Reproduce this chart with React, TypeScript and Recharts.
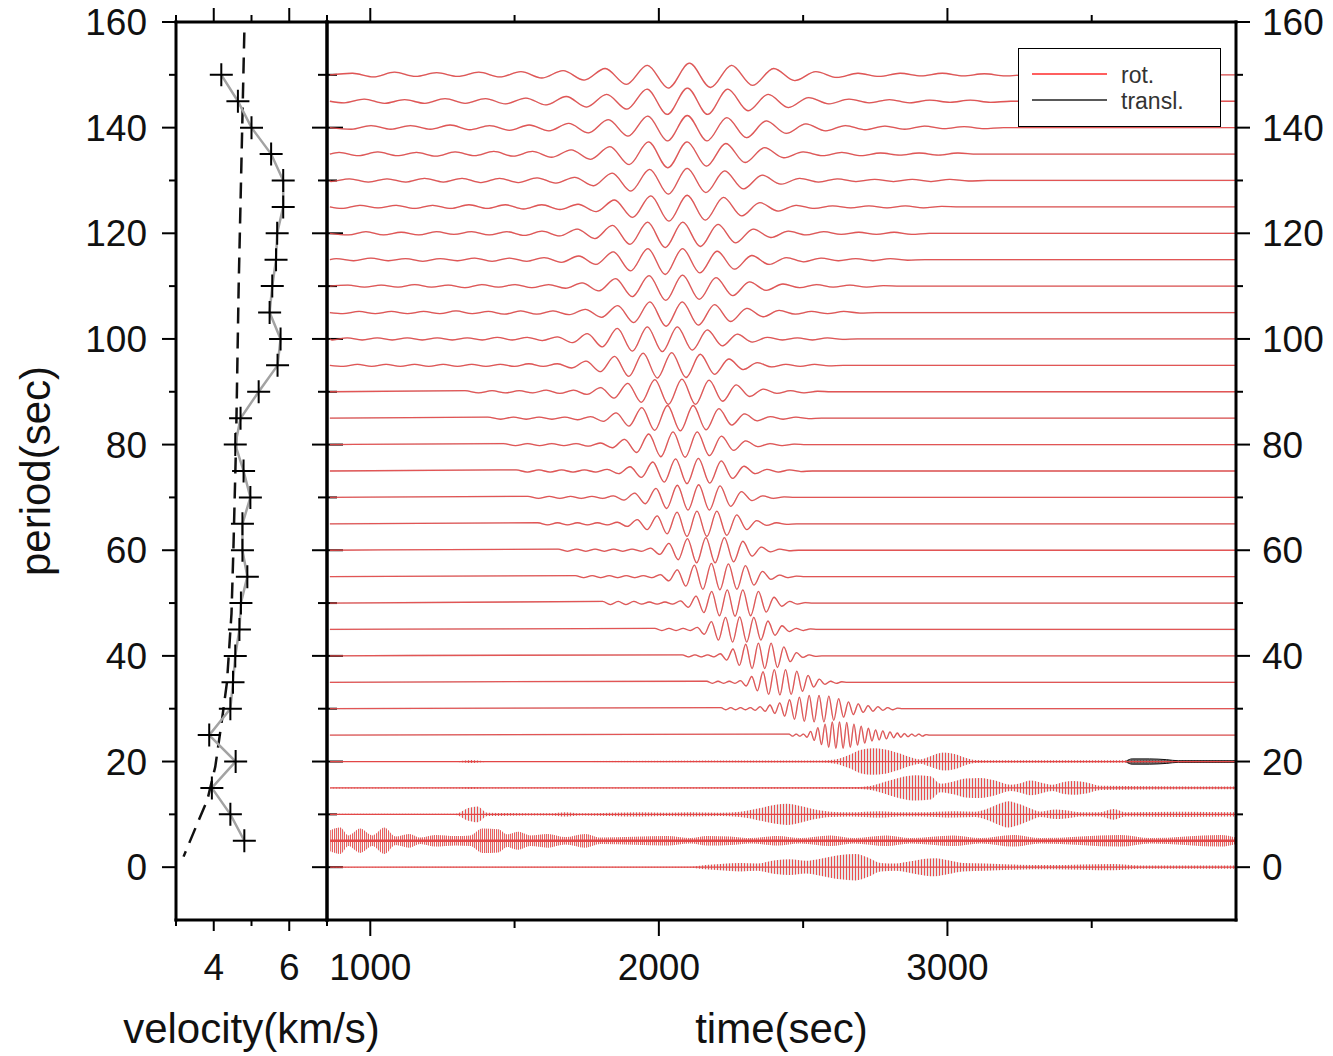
import React from 'react';
import { ComposedChart, Line, Area, Scatter, XAxis, YAxis, Legend } from 'recharts';

const W = 1333;
const H = 1056;
const FONT = '"Liberation Sans", Arial, Helvetica, sans-serif';

// ---------- tick values ----------
const periodTicks = [0, 10, 20, 30, 40, 50, 60, 70, 80, 90, 100, 110, 120, 130, 140, 150, 160];
const periodLabels = [0, 20, 40, 60, 80, 100, 120, 140, 160];
const velTicks = [3, 4, 5, 6, 7];
const velLabels = [4, 6];
const timeTicks = [1000, 1500, 2000, 2500, 3000, 3500];
const timeLabels = [1000, 2000, 3000];

// ---------- left panel: velocity vs period ----------
const crossPeriods = [150, 145, 140, 135, 130, 125, 120, 115, 110, 105, 100, 95, 90, 85, 80, 75, 70, 65, 60, 55, 50, 45, 40, 35, 30, 25, 20, 15, 10, 5];
const crossVel = [4.2, 4.64, 5.0, 5.52, 5.84, 5.84, 5.68, 5.65, 5.55, 5.48, 5.77, 5.69, 5.19, 4.71, 4.57, 4.79, 4.97, 4.76, 4.76, 4.89, 4.72, 4.68, 4.57, 4.51, 4.44, 3.88, 4.58, 3.95, 4.44, 4.81];
const refPeriods = [158, 110, 80, 60, 48, 35, 28, 19, 12.7, 8, 2];
const refVel = [4.81, 4.66, 4.59, 4.52, 4.47, 4.35, 4.22, 4.04, 3.83, 3.55, 3.2];

// ---------- right panel: filtered traces (long periods, extrema) ----------
const wavePeriods = [150, 145, 140, 135, 130, 125, 120, 115, 110, 105, 100, 95, 90, 85, 80, 75, 70, 65, 60, 55, 50, 45, 40, 35, 30, 25];
// time of first extremum (s)
const waveStart = [938, 909, 934, 892, 863, 901, 924, 882, 922, 905, 868, 906, 1328, 1407, 1461, 1505, 1546, 1580, 1651, 1710, 1805, 1986, 2081, 2166, 2215, 2451];
// spacing between successive extrema (s)
const waveStep = [73, 70, 68.5, 67, 65, 63, 61, 60, 58, 56, 52, 49.5, 47, 44.5, 42, 39.5, 37, 34.5, 32, 29.5, 27, 24.5, 22, 19.5, 17, 12.5];

const a150 = [0.3, -0.4, 0.5, -0.3, 0.4, -0.3, 0.5, -0.4, 0.6, -0.6, 0.8, -1.0, 1.2, -1.8, 1.8, -2.5, 2.2, -2.4, 1.8, -2.0, 1.2, -1.1, 0.6, -0.5, 0.3, -0.3, 0.3, -0.2, 0.3, -0.2, 0.2, -0.2, 0];
const a145 = [-0.3, 0.4, -0.4, 0.3, -0.4, 0.5, -0.4, 0.5, -0.5, 0.6, -0.7, 0.9, -1.1, 1.3, -1.5, 2.3, -2.5, 2.5, -2.5, 2.3, -1.8, 1.3, -1.2, 0.7, -0.5, 0.4, -0.3, 0.3, -0.3, 0.2, -0.2, 0.2, -0.2, 0];
const a140 = [-0.3, 0.4, -0.3, 0.4, -0.3, 0.5, -0.4, 0.4, -0.5, 0.5, -0.6, 0.8, -1.0, 1.5, -1.6, 2.2, -2.5, 2.3, -2.5, 1.9, -1.9, 1.3, -1.1, 0.7, -0.6, 0.4, -0.4, 0.3, -0.3, 0.3, -0.2, 0.2, -0.2, 0];
const a135 = [0.3, -0.3, 0.4, -0.3, 0.3, -0.4, 0.4, -0.3, 0.5, -0.4, 0.5, -0.6, 0.8, -1.0, 1.4, -2.0, 2.3, -2.6, 2.3, -2.3, 2.0, -1.6, 1.2, -0.7, 0.4, -0.3, 0.3, -0.3, 0.2, -0.2, 0.2, -0.2, 0.2, 0];
const a130 = [-0.2, 0.3, -0.3, 0.3, -0.3, 0.4, -0.3, 0.4, -0.4, 0.4, -0.4, 0.5, -0.5, 0.6, -1.0, 1.4, -2.0, 2.1, -2.6, 2.3, -2.3, 1.8, -1.6, 1.0, -0.7, 0.4, -0.3, 0.3, -0.2, 0.2, -0.2, 0.2, -0.2, 0.2, -0.1, 0];
const a125 = [-0.3, 0.3, -0.2, 0.3, -0.3, 0.3, -0.3, 0.4, -0.3, 0.4, -0.4, 0.4, -0.5, 0.5, -0.9, 1.3, -2.0, 2.1, -2.7, 2.2, -2.5, 1.8, -1.7, 0.8, -0.8, 0.3, -0.3, 0.2, -0.2, 0.2, -0.2, 0.2, -0.2, 0.1, 0];
const a120 = [-0.3, 0.3, -0.3, 0.2, -0.3, 0.3, -0.2, 0.3, -0.3, 0.3, -0.4, 0.4, -0.5, 0.8, -1.0, 1.5, -2.1, 2.1, -2.7, 2.1, -2.5, 1.7, -1.8, 0.8, -0.8, 0.4, -0.3, 0.3, -0.2, 0.2, -0.2, 0.2, -0.2, 0];
const a115 = [0.2, -0.2, 0.3, -0.2, 0.2, -0.3, 0.2, -0.2, 0.3, -0.3, 0.3, -0.3, 0.4, -0.5, 0.7, -0.9, 1.5, -2.1, 2.1, -2.8, 2.1, -2.5, 1.6, -1.8, 0.8, -0.9, 0.4, -0.4, 0.3, -0.2, 0.2, -0.2, 0.2, -0.1, 0];
const a110 = [0.2, -0.2, 0.2, -0.2, 0.3, -0.2, 0.2, -0.3, 0.3, -0.2, 0.3, -0.3, 0.3, -0.4, 0.6, -0.9, 1.4, -2.0, 2.0, -2.7, 2.1, -2.5, 1.6, -1.8, 0.8, -0.8, 0.4, -0.3, 0.3, -0.2, 0.2, -0.2, 0.1, 0];
const a105 = [-0.2, 0.2, -0.2, 0.2, -0.2, 0.2, -0.2, 0.3, -0.2, 0.2, -0.3, 0.3, -0.3, 0.3, -0.4, 0.6, -0.9, 1.3, -1.9, 2.0, -2.6, 2.0, -2.4, 1.5, -1.7, 0.8, -0.8, 0.4, -0.3, 0.2, -0.2, 0.2, -0.1, 0];
const a100 = [-0.2, 0.2, -0.2, 0.2, -0.2, 0.2, -0.2, 0.2, -0.2, 0.2, -0.2, 0.3, -0.2, 0.3, -0.3, 0.4, -0.7, 1.0, -1.5, 2.0, -2.3, 2.3, -2.4, 2.3, -2.1, 1.7, -1.3, 0.9, -0.6, 0.3, -0.2, 0.2, -0.2, 0.2, -0.1, 0];
const a95 = [-0.2, 0.2, -0.2, 0.2, -0.2, 0.2, -0.2, 0.2, -0.2, 0.2, -0.2, 0.2, -0.2, 0.3, -0.2, 0.3, -0.5, 0.8, -1.2, 1.7, -2.1, 2.3, -2.4, 2.4, -2.3, 2.1, -1.7, 1.2, -0.8, 0.5, -0.3, 0.2, -0.2, 0.2, -0.1, 0];
const a90 = [0.2, -0.2, 0.2, -0.2, 0.2, -0.2, 0.3, -0.3, 0.3, -0.5, 0.8, -1.2, 1.6, -2.0, 2.3, -2.4, 2.4, -2.4, 2.2, -1.8, 1.3, -0.9, 0.5, -0.3, 0.2, -0.2, 0.1, 0];
const a85 = [0.2, -0.2, 0.2, -0.2, 0.2, -0.2, 0.2, -0.3, 0.3, -0.6, 1.0, -1.5, 2.0, -2.3, 2.4, -2.4, 2.4, -2.2, 1.8, -1.3, 0.8, -0.5, 0.3, -0.2, 0.2, -0.1, 0];
const a80 = [0.2, -0.2, 0.2, -0.2, 0.2, -0.2, 0.2, -0.3, 0.3, -0.6, 1.0, -1.5, 2.0, -2.3, 2.4, -2.4, 2.4, -2.1, 1.6, -1.1, 0.7, -0.4, 0.2, -0.2, 0.1, 0];
const a75 = [0.2, -0.2, 0.2, -0.2, 0.2, -0.2, 0.2, -0.2, 0.3, -0.5, 0.8, -1.2, 1.7, -2.1, 2.3, -2.4, 2.4, -2.3, 1.9, -1.4, 0.9, -0.5, 0.3, -0.2, 0.2, -0.1, 0];
const a70 = [0.2, -0.2, 0.2, -0.2, 0.2, -0.2, 0.2, -0.2, 0.3, -0.5, 0.8, -1.2, 1.7, -2.1, 2.3, -2.4, 2.4, -2.4, 2.2, -1.7, 1.1, -0.6, 0.3, -0.2, 0.1, 0];
const a65 = [0.2, -0.2, 0.2, -0.2, 0.2, -0.2, 0.2, -0.2, 0.3, -0.5, 0.8, -1.1, 1.5, -1.9, 2.2, -2.4, 2.4, -2.4, 2.4, -2.2, 1.7, -1.1, 0.6, -0.3, 0.2, -0.1, 0];
const a60 = [0.2, -0.2, 0.2, -0.2, 0.2, -0.2, 0.2, -0.2, 0.2, -0.2, 0.4, -0.8, 1.3, -1.8, 2.2, -2.4, 2.4, -2.4, 2.4, -2.2, 1.7, -1.1, 0.6, -0.3, 0.2, -0.1, 0];
const a55 = [0.2, -0.2, 0.2, -0.2, 0.2, -0.2, 0.2, -0.2, 0.2, -0.2, 0.4, -0.8, 1.3, -1.8, 2.2, -2.4, 2.5, -2.5, 2.4, -2.4, 2.1, -1.6, 1.0, -0.5, 0.3, -0.2, 0.1, 0];
const a50 = [0.3, -0.3, 0.3, -0.3, 0.3, -0.2, 0.2, -0.2, 0.2, -0.2, 0.4, -0.8, 1.3, -1.8, 2.2, -2.4, 2.5, -2.5, 2.5, -2.4, 2.2, -1.7, 1.1, -0.6, 0.3, -0.2, 0.1, 0];
const a45 = [0.2, -0.2, 0.2, -0.2, 0.2, -0.2, 0.4, -0.9, 1.5, -2.0, 2.3, -2.4, 2.4, -2.4, 2.3, -2.0, 1.6, -1.1, 0.7, -0.4, 0.2, -0.2, 0.1, 0];
const a40 = [0.2, -0.2, 0.2, -0.2, 0.2, -0.2, 0.4, -0.8, 1.3, -1.8, 2.2, -2.4, 2.4, -2.4, 2.4, -2.2, 1.7, -1.1, 0.6, -0.3, 0.2, -0.1, 0];
const a35 = [0.2, -0.2, 0.2, -0.2, 0.2, -0.2, 0.3, -0.7, 1.1, -1.6, 2.0, -2.3, 2.4, -2.4, 2.4, -2.3, 2.1, -1.7, 1.3, -0.9, 0.6, -0.4, 0.2, -0.2, 0.1, 0];
const a30 = [0.2, -0.2, 0.2, -0.2, 0.2, -0.2, 0.2, -0.3, 0.4, -0.5, 0.7, -0.9, 1.1, -1.4, 1.7, -2.0, 2.2, -2.4, 2.5, -2.5, 2.5, -2.5, 2.4, -2.2, 1.9, -1.6, 1.3, -1.1, 0.9, -0.7, 0.6, -0.5, 0.4, -0.3, 0.2, -0.2, 0.1, 0];
const a25 = [0.2, -0.2, 0.2, -0.2, 0.2, -0.4, 0.7, -1.0, 1.4, -1.8, 2.1, -2.3, 2.5, -2.5, 2.5, -2.5, 2.4, -2.3, 2.1, -1.9, 1.7, -1.5, 1.3, -1.1, 1.0, -0.9, 0.8, -0.7, 0.6, -0.5, 0.4, -0.4, 0.3, -0.3, 0.2, -0.2, 0.2, -0.2, 0.1, 0];
const waveAmps = [a150, a145, a140, a135, a130, a125, a120, a115, a110, a105, a100, a95, a90, a85, a80, a75, a70, a65, a60, a55, a50, a45, a40, a35, a30, a25];

// ---------- right panel: short-period traces (envelopes: [time, half-amplitude]) ----------
const env20 = [[861, 0.1], [1300, 0.1], [1350, 0.3], [1400, 0.1], [2000, 0.15], [2560, 0.2], [2612, 0.4], [2657, 1.2], [2698, 2.2], [2740, 2.5], [2785, 2.3], [2830, 1.6], [2872, 0.8], [2906, 0.4], [2941, 1.0], [2986, 1.7], [3028, 1.4], [3062, 0.7], [3097, 0.3], [3184, 0.25], [3624, 0.25], [4000, 0.2]];
const env15 = [[861, 0.1], [1300, 0.1], [1350, 0.2], [1400, 0.1], [2490, 0.15], [2698, 0.2], [2744, 0.5], [2793, 1.3], [2837, 2.0], [2889, 2.4], [2941, 2.2], [2976, 0.8], [3021, 1.2], [3062, 1.8], [3114, 1.9], [3166, 1.4], [3218, 0.6], [3253, 0.9], [3288, 1.4], [3333, 0.9], [3364, 0.6], [3399, 1.1], [3437, 1.3], [3486, 1.0], [3530, 0.4], [3704, 0.3], [4000, 0.25]];
const env10 = [[861, 0.1], [1295, 0.1], [1340, 1.2], [1371, 1.5], [1406, 0.3], [1624, 0.2], [1676, 0.4], [1728, 0.2], [1936, 0.4], [2023, 0.3], [2109, 0.4], [2213, 0.3], [2283, 0.5], [2352, 1.2], [2404, 1.8], [2445, 2.0], [2490, 1.6], [2542, 0.9], [2594, 0.5], [2664, 0.4], [2768, 0.6], [2837, 0.4], [2906, 0.4], [3021, 0.6], [3097, 0.5], [3149, 1.3], [3184, 2.1], [3211, 2.5], [3246, 2.0], [3288, 1.1], [3322, 0.5], [3374, 0.9], [3409, 0.8], [3461, 0.4], [3530, 0.4], [3575, 1.0], [3617, 0.4], [3808, 0.5], [4000, 0.4]];
const env5 = [[861, 2.0], [896, 2.5], [924, 1.0], [965, 2.3], [1007, 1.0], [1049, 2.5], [1087, 0.8], [1135, 1.3], [1173, 0.6], [1225, 1.1], [1295, 0.9], [1347, 1.0], [1388, 2.3], [1444, 2.2], [1475, 1.2], [1513, 1.7], [1555, 1.0], [1614, 1.3], [1676, 0.7], [1745, 1.3], [1797, 0.6], [2029, 0.9], [2109, 0.5], [2168, 0.9], [2248, 0.8], [2317, 0.5], [2411, 0.9], [2490, 0.5], [2594, 1.0], [2674, 0.5], [2789, 1.0], [2872, 0.5], [3021, 1.0], [3114, 0.5], [3229, 1.1], [3322, 0.5], [3600, 1.1], [3704, 0.5], [3947, 1.1], [4000, 0.6]];
const env0 = [[861, 0.05], [2109, 0.1], [2161, 0.4], [2213, 0.6], [2283, 0.8], [2341, 0.7], [2404, 1.3], [2456, 1.5], [2508, 1.2], [2560, 1.6], [2629, 2.3], [2681, 2.5], [2726, 1.8], [2768, 0.8], [2820, 0.7], [2872, 1.1], [2924, 1.6], [2958, 1.7], [3003, 1.3], [3052, 0.8], [3132, 0.7], [3218, 0.5], [3357, 0.4], [3575, 0.6], [3669, 0.3], [4000, 0.3]];
const burstPeriods = [20, 15, 10, 5, 0];
const burstEnvs = [env20, env15, env10, env5, env0];
// translational trace overshoot on the 20 s band
const transl20 = [[3620, 0.1], [3640, 0.5], [3700, 0.5], [3760, 0.35], [3800, 0.15], [4000, 0.15]];

// ---------- data builders ----------
const crossData = crossPeriods.map((p, i) => ({ p, v: crossVel[i] }));
const refData = refPeriods.map((p, i) => ({ p, v: refVel[i] }));

function waveData(i: number) {
  const P = wavePeriods[i];
  const pts: { t: number; v: number }[] = [{ t: 860, v: P }];
  waveAmps[i].forEach((a, k) => pts.push({ t: waveStart[i] + k * waveStep[i], v: P + a }));
  pts.push({ t: 4000, v: P });
  return pts;
}
function bandData(P: number, env: number[][]) {
  return env.map(([t, a]) => ({ t, band: [P - a, P + a] }));
}
function baseData(P: number, env: number[][]) {
  return [{ t: env[0][0], v: P }, { t: env[env.length - 1][0], v: P }];
}

// ---------- ticks ----------
const tickText = { fontFamily: FONT, fontSize: 37, fill: '#111' };

function makeTick(side: string, majors: number[], labels: number[], majorLen: number, minorLen: number) {
  return (props: any) => {
    const x = Number(props.x);
    const y = Number(props.y);
    const v = props.payload ? props.payload.value : 0;
    const len = majors.includes(v) ? majorLen : minorLen;
    const show = labels.includes(v);
    let l: any = null;
    let t: any = null;
    if (side === 'left') {
      l = <line x1={x} y1={y} x2={x - len} y2={y} />;
      if (show) t = <text x={x - 29} y={y + 13} textAnchor="end" {...tickText}>{v}</text>;
    } else if (side === 'right') {
      l = <line x1={x} y1={y} x2={x + len} y2={y} />;
      if (show) t = <text x={x + 26} y={y + 13} textAnchor="start" {...tickText}>{v}</text>;
    } else if (side === 'top') {
      l = <line x1={x} y1={y} x2={x} y2={y - len} />;
    } else {
      l = <line x1={x} y1={y} x2={x} y2={y + len} />;
      if (show) t = <text x={x} y={y + 60} textAnchor="middle" {...tickText}>{v}</text>;
    }
    return (
      <g>
        <g stroke="#000" strokeWidth={2}>{l}</g>
        {t}
      </g>
    );
  };
}

const axisStyle = { stroke: '#000', strokeWidth: 3, strokeLinecap: 'square' as const };
const common = { tickSize: 0, tickMargin: 0, tickLine: false, interval: 0 as const, allowDataOverflow: true };

const CrossShape = (props: any) => {
  const { cx, cy } = props;
  if (cx == null || cy == null) return <g />;
  return <path d={`M${cx - 11.5},${cy}H${cx + 11.5}M${cx},${cy - 11.5}V${cy + 11.5}`} stroke="#000" strokeWidth={2} fill="none" />;
};
const NoShape = () => <g />;

const LegendBox = () => (
  <div style={{ width: 203, height: 79, boxSizing: 'border-box', border: '1.5px solid #000', background: '#fff', position: 'relative' }}>
    <svg width={200} height={76} style={{ position: 'absolute', left: 0, top: 0 }}>
      <line x1={13} x2={88} y1={25} y2={25} stroke="#ff2a2a" strokeWidth={1.5} />
      <line x1={13} x2={88} y1={51} y2={51} stroke="#222" strokeWidth={1.5} />
      <text x={102} y={34} fontFamily={FONT} fontSize={23} fill="#333">rot.</text>
      <text x={102} y={60} fontFamily={FONT} fontSize={23} fill="#333">transl.</text>
    </svg>
  </div>
);

const PeriodTitle = (props: any) => {
  const vb = props.viewBox || { x: 136, y: 22, width: 40, height: 898 };
  const cx = vb.x - 101;
  const cy = vb.y + vb.height / 2;
  return (
    <text transform={`translate(${cx},${cy}) rotate(-90)`} textAnchor="middle" dominantBaseline="central" fontFamily={FONT} fontSize={42} fill="#111">
      period(sec)
    </text>
  );
};

const RED = '#e24646';
const GRAY = '#8a8a8a';

export default function App() {
  return (
    <div style={{ position: 'absolute', left: 0, top: 0, width: W, height: H, background: '#fff', fontFamily: FONT }}>
      {/* left panel */}
      <div style={{ position: 'absolute', left: 0, top: 0 }}>
        <ComposedChart width={W} height={H} margin={{ top: 2, left: 136, right: 986, bottom: 106 }}>
          <XAxis xAxisId="b" orientation="bottom" dataKey="v" type="number" domain={[3, 7]} ticks={velTicks} height={30}
            {...common} axisLine={axisStyle} tick={makeTick('bottom', velLabels, velLabels, 11, 6)}
            label={{ value: 'velocity(km/s)', position: 'bottom', offset: 63, fontSize: 42, fontFamily: FONT, fill: '#111' }} />
          <XAxis xAxisId="tp" orientation="top" dataKey="v" type="number" domain={[3, 7]} ticks={velTicks} height={20}
            {...common} axisLine={axisStyle} tick={makeTick('top', velLabels, [], 14, 7)} />
          <YAxis yAxisId="l" orientation="left" dataKey="p" type="number" domain={[-10, 160]} ticks={periodTicks} width={40}
            {...common} axisLine={axisStyle} tick={makeTick('left', periodLabels, periodLabels, 14, 7)}
            label={{ content: PeriodTitle }} />
          <YAxis yAxisId="rr" orientation="right" dataKey="p" type="number" domain={[-10, 160]} ticks={periodTicks} width={20}
            {...common} axisLine={axisStyle} tick={makeTick('right', periodLabels, [], 16, 10)} />
          <Scatter data={refData} xAxisId="b" yAxisId="l" shape={NoShape} isAnimationActive={false}
            line={{ stroke: '#111', strokeWidth: 2.5, strokeDasharray: '16 9' }} lineType="joint" legendType="none" />
          <Scatter data={crossData} xAxisId="b" yAxisId="l" shape={CrossShape} isAnimationActive={false}
            line={{ stroke: '#a3a3a3', strokeWidth: 2.5 }} lineType="joint" legendType="none" />
        </ComposedChart>
      </div>

      {/* right panel */}
      <div style={{ position: 'absolute', left: 0, top: 0 }}>
        <ComposedChart width={W} height={H} margin={{ top: 2, left: 307, right: 57, bottom: 106 }}>
          <defs>
            <pattern id="hatchRed" patternUnits="userSpaceOnUse" width="3" height="8">
              <rect x="0" y="0" width="1" height="8" fill="#e83030" />
            </pattern>
            <pattern id="hatchGray" patternUnits="userSpaceOnUse" width="3" height="8">
              <rect x="1.5" y="0" width="1" height="8" fill="#9a9a9a" />
            </pattern>
            <pattern id="hatchRedDense" patternUnits="userSpaceOnUse" width="2" height="8">
              <rect x="0" y="0" width="1" height="8" fill="#e83030" />
            </pattern>
          </defs>
          <XAxis xAxisId="b" orientation="bottom" dataKey="t" type="number" domain={[850, 4000]} ticks={timeTicks} height={30}
            {...common} axisLine={axisStyle} tick={makeTick('bottom', timeLabels, timeLabels, 16, 8)}
            label={{ value: 'time(sec)', position: 'bottom', offset: 63, fontSize: 42, fontFamily: FONT, fill: '#111' }} />
          <XAxis xAxisId="tp" orientation="top" dataKey="t" type="number" domain={[850, 4000]} ticks={timeTicks} height={20}
            {...common} axisLine={axisStyle} tick={makeTick('top', timeLabels, [], 14, 7)} />
          <YAxis yAxisId="ll" orientation="left" type="number" domain={[-10, 160]} ticks={periodTicks} width={20}
            {...common} axisLine={axisStyle} tick={makeTick('left', periodLabels, [], 15, 9)} />
          <YAxis yAxisId="r" orientation="right" type="number" domain={[-10, 160]} ticks={periodTicks} width={40}
            {...common} axisLine={axisStyle} tick={makeTick('right', periodLabels, periodLabels, 14, 7)} />

          {burstPeriods.map((P, i) => (
            <Area key={`tb${P}`} data={bandData(P, burstEnvs[i])} dataKey="band" xAxisId="b" yAxisId="r" type="monotone"
              stroke="none" fill="url(#hatchGray)" fillOpacity={0.45} dot={false} activeDot={false} isAnimationActive={false} legendType="none" />
          ))}
          {burstPeriods.map((P, i) => (
            <Area key={`rb${P}`} data={bandData(P, burstEnvs[i])} dataKey="band" xAxisId="b" yAxisId="r" type="monotone"
              stroke="none" fill={P === 5 ? 'url(#hatchRedDense)' : 'url(#hatchRed)'} fillOpacity={P === 5 ? 0.75 : 0.85} dot={false} activeDot={false}
              isAnimationActive={false} legendType="none" />
          ))}
          {burstPeriods.map((P, i) => (
            <Line key={`bl${P}`} data={baseData(P, burstEnvs[i])} dataKey="v" xAxisId="b" yAxisId="r" type="linear"
              stroke={RED} strokeWidth={P === 5 ? 2.5 : 1.2} dot={false} activeDot={false} isAnimationActive={false} legendType="none" />
          ))}
          <Area data={bandData(20, transl20)} dataKey="band" xAxisId="b" yAxisId="r" type="monotone" stroke="#111" strokeWidth={1}
            fill="#222" dot={false} activeDot={false} isAnimationActive={false} legendType="none" />

          {wavePeriods.map((P, i) => (
            <Line key={`tr${P}`} data={waveData(i)} dataKey="v" xAxisId="b" yAxisId="r" type="monotone"
              stroke={GRAY} strokeWidth={1.4} strokeOpacity={0.28} dot={false} activeDot={false} isAnimationActive={false} legendType="none" />
          ))}
          {wavePeriods.map((P, i) => (
            <Line key={`ro${P}`} data={waveData(i)} dataKey="v" xAxisId="b" yAxisId="r" type="monotone"
              stroke={RED} strokeWidth={1.3} strokeOpacity={0.9} dot={false} activeDot={false} isAnimationActive={false} legendType="none" />
          ))}

          <Legend content={LegendBox} layout="horizontal" verticalAlign="middle" align="center"
            wrapperStyle={{ left: 1018, top: 48, width: 203, height: 79 }} />
        </ComposedChart>
      </div>
    </div>
  );
}
